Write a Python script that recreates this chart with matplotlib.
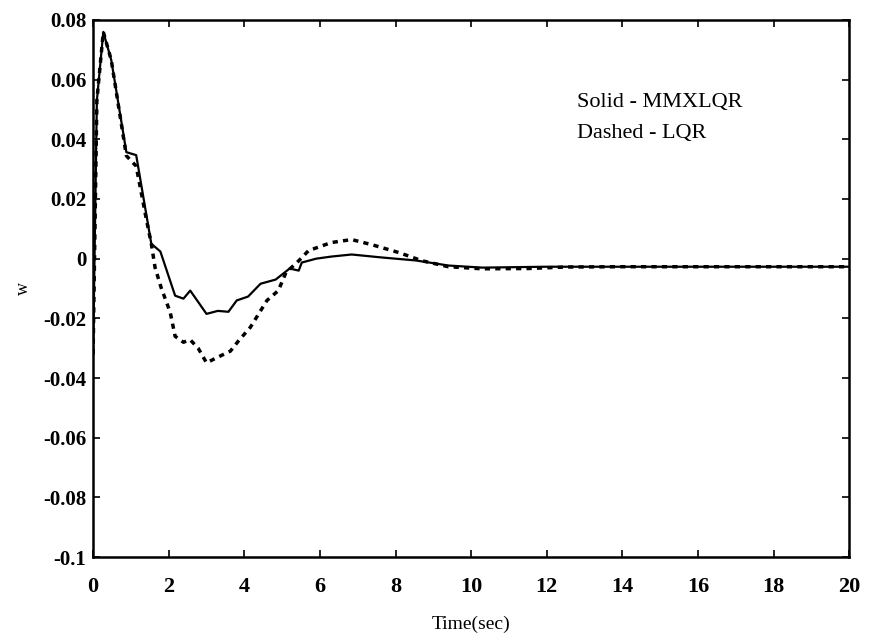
import numpy as np
import matplotlib.pyplot as plt

# MMXLQR response (solid)
t_solid = [0.0, 0.1, 0.27, 0.48, 0.88, 1.14, 1.54, 1.78, 2.17, 2.39, 2.57, 3.0, 3.3,
           3.58, 3.8, 4.1, 4.43, 4.83, 5.2, 5.44, 5.52, 5.9, 6.3, 6.84, 7.64, 8.54,
           9.4, 10.3, 12.0, 14.0, 16.0, 18.0, 20.0]
w_solid = [-0.032, 0.053, 0.076, 0.0666, 0.0357, 0.0347, 0.005, 0.0024, -0.0124, -0.0134,
           -0.0107, -0.0185, -0.0175, -0.0178, -0.014, -0.0127, -0.0084, -0.007, -0.0033,
           -0.004, -0.0013, 0.0, 0.0007, 0.0014, 0.0004, -0.0006, -0.0023, -0.003, -0.0027,
           -0.0027, -0.0027, -0.0027, -0.0027]

# LQR response (dashed)
t_dash = [0.0, 0.1, 0.27, 0.48, 0.88, 1.14, 1.4, 1.54, 1.64, 1.8, 2.04, 2.17, 2.39, 2.57,
          2.78, 3.0, 3.3, 3.63, 3.85, 4.16, 4.38, 4.6, 4.9, 5.1, 5.44, 5.7, 6.3, 6.84,
          7.37, 8.1, 8.7, 9.4, 10.3, 11.5, 12.5, 14.0, 16.0, 18.0, 20.0]
w_dash = [-0.032, 0.053, 0.076, 0.0666, 0.0345, 0.031, 0.0138, 0.005, -0.003, -0.0097,
          -0.018, -0.026, -0.028, -0.0272, -0.030, -0.0349, -0.033, -0.031, -0.0275, -0.023,
          -0.0185, -0.014, -0.0107, -0.0047, -0.0007, 0.0027, 0.0054, 0.0064, 0.0047, 0.002,
          -0.0007, -0.0027, -0.0034, -0.0033, -0.0028, -0.0027, -0.0027, -0.0027, -0.0027]

x_ticks = [0, 2, 4, 6, 8, 10, 12, 14, 16, 18, 20]
y_ticks = [0.08, 0.06, 0.04, 0.02, 0, -0.02, -0.04, -0.06, -0.08, -0.1]
y_labels = ['0.08', '0.06', '0.04', '0.02', '0', '-0.02', '-0.04', '-0.06', '-0.08', '-0.1']

plt.rcParams['font.family'] = 'Liberation Serif'

fig = plt.figure(figsize=(8.7, 6.44), dpi=100)
ax = fig.add_axes([0.107, 0.135, 0.869, 0.834])

ax.plot(t_solid, w_solid, color='black', lw=1.6)
ax.plot(t_dash, w_dash, color='black', lw=2.5, dashes=(1.5, 1.5))

ax.set_xlim(0, 20)
ax.set_ylim(-0.1, 0.08)
ax.set_xticks(x_ticks)
ax.set_xticklabels([str(v) for v in x_ticks], fontsize=16, fontweight='bold')
ax.set_yticks(y_ticks)
ax.set_yticklabels(y_labels, fontsize=15, fontweight='bold')
ax.tick_params(direction='in', length=5, width=1.2, top=True, right=True)
ax.tick_params(axis='x', pad=14)
ax.tick_params(axis='y', pad=5)
for s in ax.spines.values():
    s.set_linewidth(1.8)

ax.set_xlabel('Time(sec)', fontsize=14, labelpad=14)
ax.set_ylabel('w', fontsize=13, labelpad=8)

ax.text(12.8, 0.0525, 'Solid - MMXLQR', fontsize=16, va='center')
ax.text(12.8, 0.0420, 'Dashed - LQR', fontsize=16, va='center')

fig.savefig('out.png', dpi=100)
